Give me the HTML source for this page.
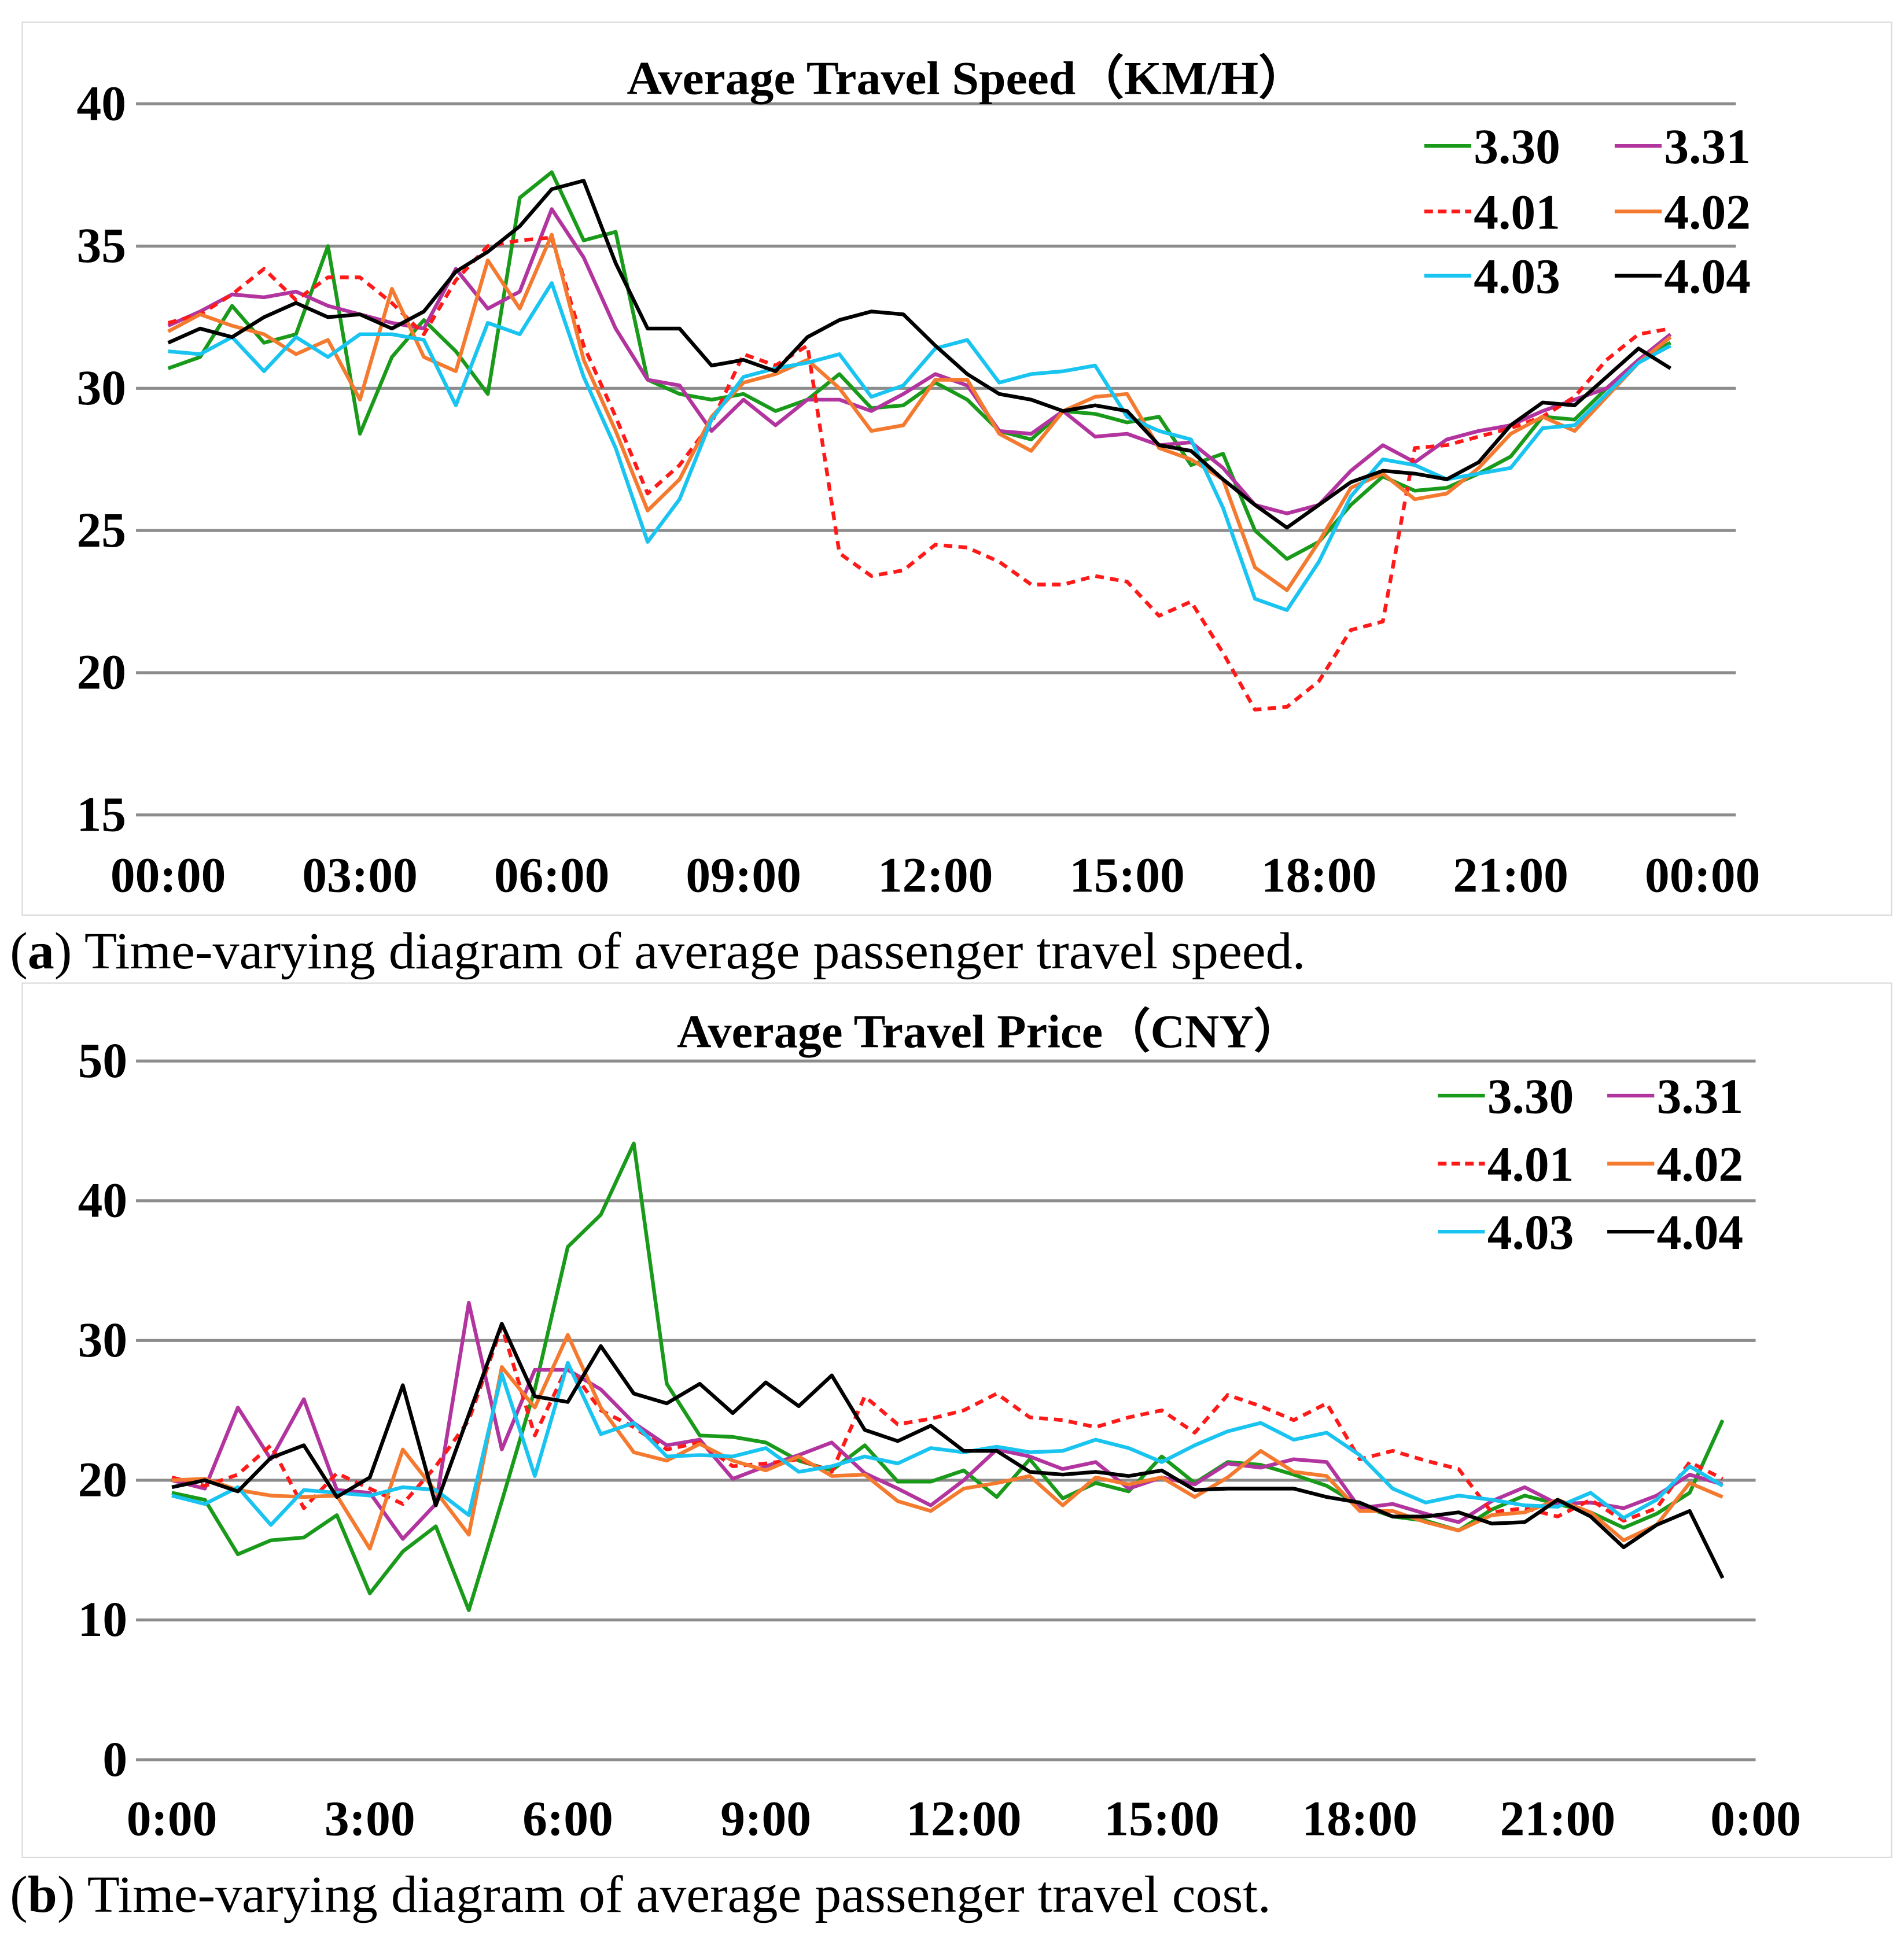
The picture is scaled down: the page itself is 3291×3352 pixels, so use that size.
<!DOCTYPE html>
<html><head><meta charset="utf-8">
<style>
html,body{margin:0;padding:0;background:#fff;}
svg{display:block;}
text{font-family:"Liberation Serif",serif;}
</style></head>
<body>
<svg id="root" width="3291" height="3352" viewBox="0 0 1540 1568" preserveAspectRatio="none" xmlns="http://www.w3.org/2000/svg">
<rect x="0" y="0" width="1540" height="1568" fill="#fff"/>
<g id="chartA"></g>
<g id="chartB"></g>
<text x="8" y="783" font-size="42" textLength="1048" lengthAdjust="spacingAndGlyphs" fill="#000">(<tspan font-weight="bold">a</tspan>) Time-varying diagram of average passenger travel speed.</text>
<text x="8" y="1546" font-size="42" textLength="1020" lengthAdjust="spacingAndGlyphs" fill="#000">(<tspan font-weight="bold">b</tspan>) Time-varying diagram of average passenger travel cost.</text>
</svg>
<script>
const seriesNames = ["3.30","3.31","4.01","4.02","4.03","4.04"];
const seriesColors = ["#1a9a1a","#b2349e","#ff1a1a","#f47a30","#19c4f0","#000000"];
const speedTicks = [15,20,25,30,35,40];
const speedXLabels = ["00:00","03:00","06:00","09:00","12:00","15:00","18:00","21:00","00:00"];
const priceTicks = [0,10,20,30,40,50];
const priceXLabels = ["0:00","3:00","6:00","9:00","12:00","15:00","18:00","21:00","0:00"];

const speed330 = [30.7,31.1,32.9,31.6,31.9,35.0,28.4,31.1,32.4,31.3,29.8,36.7,37.6,35.2,35.5,30.3,29.8,29.6,29.8,29.2,29.6,30.5,29.3,29.4,30.2,29.6,28.5,28.2,29.2,29.1,28.8,29.0,27.3,27.7,25.0,24.0,24.6,25.9,26.9,26.4,26.5,27.0,27.6,29.0,28.9,30.0,31.0,31.6];
const speed331 = [32.2,32.7,33.3,33.2,33.4,32.9,32.6,32.3,32.1,34.2,32.8,33.4,36.3,34.6,32.1,30.3,30.1,28.5,29.6,28.7,29.6,29.6,29.2,29.8,30.5,30.1,28.5,28.4,29.2,28.3,28.4,28.0,28.1,27.2,25.9,25.6,25.9,27.1,28.0,27.4,28.2,28.5,28.7,29.2,29.6,30.0,31.0,31.9];
const speed401 = [32.3,32.6,33.3,34.2,33.1,33.9,33.9,33.0,31.9,33.8,35.0,35.2,35.3,31.5,29.0,26.3,27.3,28.8,31.2,30.8,31.5,24.2,23.4,23.6,24.5,24.4,23.9,23.1,23.1,23.4,23.2,22.0,22.5,20.7,18.7,18.8,19.7,21.5,21.8,27.9,28.0,28.3,28.6,29.0,29.7,31.0,31.9,32.1];
const speed402 = [32.0,32.6,32.2,31.9,31.2,31.7,29.6,33.5,31.1,30.6,34.5,32.8,35.4,31.0,28.5,25.7,26.8,29.0,30.2,30.5,31.0,30.0,28.5,28.7,30.3,30.3,28.4,27.8,29.2,29.7,29.8,27.9,27.5,26.8,23.7,22.9,24.6,26.5,27.0,26.1,26.3,27.2,28.4,29.0,28.5,29.7,30.9,31.8];
const speed403 = [31.3,31.2,31.8,30.6,31.8,31.1,31.9,31.9,31.7,29.4,32.3,31.9,33.7,30.4,27.9,24.6,26.1,28.9,30.4,30.7,30.9,31.2,29.7,30.1,31.4,31.7,30.2,30.5,30.6,30.8,29.0,28.5,28.2,25.8,22.6,22.2,23.9,26.2,27.5,27.3,26.8,27.0,27.2,28.6,28.7,29.8,30.9,31.5];
const speed404 = [31.6,32.1,31.8,32.5,33.0,32.5,32.6,32.1,32.7,34.1,34.8,35.7,37.0,37.3,34.4,32.1,32.1,30.8,31.0,30.6,31.8,32.4,32.7,32.6,31.5,30.5,29.8,29.6,29.2,29.4,29.2,28.0,27.8,26.8,25.9,25.1,25.9,26.7,27.1,27.0,26.8,27.4,28.7,29.5,29.4,30.4,31.4,30.7];

const price330 = [19.1,18.6,14.7,15.7,15.9,17.5,11.9,14.9,16.7,10.7,18.5,26.5,36.7,39.0,44.1,26.9,23.2,23.1,22.7,21.4,20.7,22.5,19.9,19.9,20.7,18.8,21.5,18.7,19.8,19.2,21.7,19.8,21.3,21.1,20.4,19.6,18.2,17.4,17.1,16.4,17.9,18.9,18.3,17.7,16.6,17.6,19.1,24.3];
const price331 = [20.0,19.4,25.2,21.5,25.8,19.3,19.1,15.8,18.3,32.7,22.2,27.9,27.9,26.5,24.1,22.5,22.9,20.1,21.0,21.8,22.7,20.5,19.4,18.2,20.0,22.2,21.7,20.8,21.3,19.4,20.2,19.7,21.2,20.9,21.5,21.3,18.0,18.3,17.6,17.0,18.5,19.5,18.3,18.4,18.0,18.9,20.4,19.7];
const price401 = [20.2,19.6,20.4,22.5,18.0,20.5,19.4,18.3,21.0,24.3,31.0,23.2,28.2,25.0,23.8,22.2,22.7,21.0,21.2,21.5,20.6,26.0,24.0,24.4,25.0,26.2,24.5,24.3,23.8,24.5,25.0,23.4,26.1,25.3,24.3,25.5,21.5,22.1,21.4,20.8,17.7,18.0,17.4,18.6,17.1,18.0,21.3,20.1];
const price402 = [20.0,20.1,19.3,18.9,18.8,18.9,15.1,22.2,19.2,16.1,28.1,25.2,30.4,25.2,22.0,21.4,22.6,21.4,20.7,21.7,20.3,20.4,18.5,17.8,19.4,19.8,20.3,18.2,20.2,19.7,20.2,18.8,20.2,22.1,20.6,20.3,17.8,17.8,17.0,16.4,17.5,17.7,18.6,17.7,15.7,16.8,19.8,18.8];
const price403 = [18.9,18.3,19.5,16.8,19.3,19.1,18.9,19.5,19.3,17.5,27.6,20.3,28.4,23.3,24.1,21.7,21.8,21.7,22.3,20.6,21.0,21.7,21.2,22.3,22.0,22.4,22.0,22.1,22.9,22.3,21.3,22.5,23.5,24.1,22.9,23.4,21.8,19.4,18.4,18.9,18.6,18.2,18.1,19.1,17.3,18.6,21.0,19.6];
const price404 = [19.5,20.0,19.2,21.6,22.5,18.8,20.2,26.8,18.2,24.7,31.2,26.0,25.6,29.6,26.2,25.5,26.9,24.8,27.0,25.3,27.5,23.6,22.8,23.9,22.1,22.1,20.6,20.4,20.6,20.3,20.7,19.3,19.4,19.4,19.4,18.8,18.4,17.4,17.4,17.7,16.9,17.0,18.6,17.4,15.2,16.8,17.8,13.0];

const NS="http://www.w3.org/2000/svg";
function mk(parent, tag, attrs, text){
  const e=document.createElementNS(NS,tag);
  for(const k in attrs) e.setAttribute(k,attrs[k]);
  if(text!==undefined) e.textContent=text;
  parent.appendChild(e); return e;
}

function drawChart(g, cfg){
  const frame=mk(g,'rect',{x:cfg.box[0],y:cfg.box[1],width:cfg.box[2],height:cfg.box[3],fill:'#fff',stroke:'#d9d9d9','stroke-width':1});
  
  
  const yMin=cfg.ticks[0], yMax=cfg.ticks[cfg.ticks.length-1];
  const yS=v=>cfg.y0+(v-yMin)/(yMax-yMin)*(cfg.y1-cfg.y0);
  const xS=h=>cfg.x0+h/24*(cfg.x1-cfg.x0);
  cfg.ticks.forEach(t=>{
    const ln=mk(g,'line',{x1:cfg.gx0,x2:cfg.gx1,y1:yS(t),y2:yS(t),stroke:'#8c8c8c','stroke-width':2.4});
    
    
    const tx=mk(g,'text',{x:cfg.ylx,y:yS(t)+13,'font-size':40,'font-weight':'bold','text-anchor':'end'},String(t));
    
    
  });
  cfg.xlabels.forEach((l,i)=>{
    const tx=mk(g,'text',{x:xS(i*3),y:cfg.xly,'font-size':40,'font-weight':'bold','text-anchor':'middle'},l);
    
    
  });
  const title=mk(g,'text',{x:cfg.titleX,y:cfg.titleY,'font-size':38,'font-weight':'bold','text-anchor':'middle',textLength:cfg.titleW,lengthAdjust:'spacingAndGlyphs'},cfg.title);
  
  
  cfg.data.forEach((arr,si)=>{
    const d=arr.map((v,i)=>(i?'L':'M')+xS(i*0.5).toFixed(2)+' '+yS(v).toFixed(2)).join(' ');
    const p=mk(g,'path',{d:d,fill:'none',stroke:seriesColors[si],'stroke-width':3,'stroke-linejoin':'round'});
    if(si===2) p.setAttribute('stroke-dasharray','7 5');
    
    
  });
  seriesNames.forEach((n,si)=>{
    const col=si%2, row=Math.floor(si/2);
    const lx=cfg.legX[col], ly=cfg.legY[row];
    const ln=mk(g,'line',{x1:lx,x2:lx+38,y1:ly,y2:ly,stroke:seriesColors[si],'stroke-width':3});
    if(si===2) ln.setAttribute('stroke-dasharray','7 4');
    
    
    const tx=mk(g,'text',{x:lx+40,y:ly+14,'font-size':40,'font-weight':'bold'},n);
    
    
  });
}

drawChart(document.getElementById('chartA'),{
  box:[18,18,1512,722], ticks:speedTicks, y0:659, y1:84, x0:136, x1:1377, gx0:110, gx1:1404,
  ylx:102, xly:721, xlabels:speedXLabels, title:"Average Travel Speed（KM/H）", titleX:782, titleY:76, titleW:550,
  data:[speed330,speed331,speed401,speed402,speed403,speed404],
  legX:[1152,1306], legY:[118,171,223]
});
drawChart(document.getElementById('chartB'),{
  box:[18,795,1512,707], ticks:priceTicks, y0:1423, y1:858, x0:139, x1:1420, gx0:110, gx1:1420,
  ylx:103, xly:1484, xlabels:priceXLabels, title:"Average Travel Price（CNY）", titleX:800, titleY:847, titleW:505,
  data:[price330,price331,price401,price402,price403,price404],
  legX:[1163,1300], legY:[886,941,996]
});
</script>
</body></html>
